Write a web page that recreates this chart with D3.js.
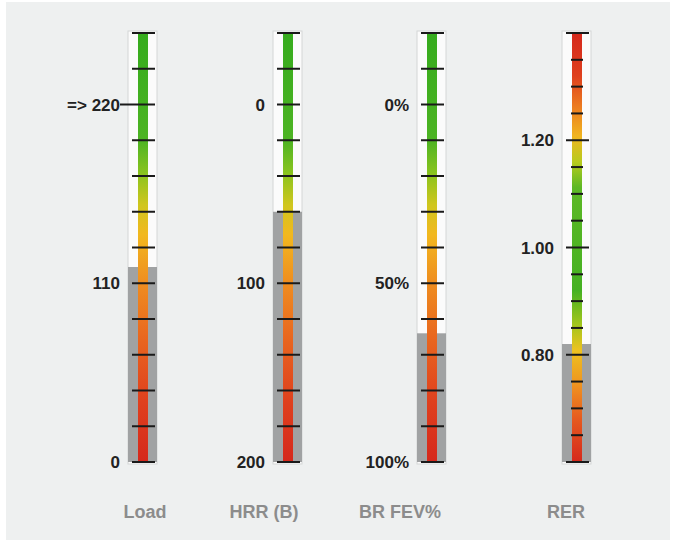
<!DOCTYPE html>
<html><head><meta charset="utf-8">
<script src="https://cdn.jsdelivr.net/npm/d3@7"></script>
<style>html,body{margin:0;padding:0;background:#fff;}svg{display:block;}</style>
</head><body>
<svg id="chart" width="676" height="542"></svg>
<script>
// ---- data ----
const gauges = ["Load", "HRR (B)", "BR FEV%", "RER"];
const values = [120, 60, 64, 0.82];
const domainTop = [264, -40, -20, 1.40];
const domainBottom = [0, 200, 100, 0.60];
const tickSteps = [22, 20, 10, 0.05];
const majorStep = [null, null, null, 0.2];
const labelValues = [[0, 110, 220], [0, 100, 200], [0, 50, 100], [0.8, 1.0, 1.2]];
const labelTexts = [["0", "110", "=> 220"], ["0", "100", "200"], ["0%", "50%", "100%"], ["0.80", "1.00", "1.20"]];
const markerValue = [220, null, null, null];
const colorSchemes = ["normal", "normal", "normal", "rer"];

// ---- layout ----
const centers = [143, 288, 432, 577];
const nameX = [145, 264, 400, 566];
const yTop = 33, yBottom = 462;

const svg = d3.select("#chart");
svg.append("rect").attr("x", 6).attr("y", 2).attr("width", 664).attr("height", 538).attr("fill", "#eef0f0");

const defs = svg.append("defs");
const normalStops = [[0, "#35ab1d"], [0.25, "#4db423"], [0.33, "#8cc41e"], [0.40, "#cfc61e"], [0.47, "#f2b81f"], [0.58, "#ef8e20"], [0.72, "#e8641f"], [0.86, "#df401e"], [1, "#d5281c"]];
const rerStops = [[0, "#d5281c"], [0.1, "#df401e"], [0.17, "#ec7a20"], [0.24, "#f0b420"], [0.3, "#b8cb1d"], [0.36, "#5db825"], [0.6, "#45b123"], [0.68, "#a3c61c"], [0.74, "#eec220"], [0.82, "#ef9320"], [0.9, "#e65a1f"], [1, "#d5281c"]];
const stopsFor = {normal: normalStops, rer: rerStops};
Object.entries(stopsFor).forEach(([k, stops]) => {
  const g = defs.append("linearGradient").attr("id", "grad-" + k).attr("x1", 0).attr("y1", 0).attr("x2", 0).attr("y2", 1);
  stops.forEach(s => g.append("stop").attr("offset", s[0]).attr("stop-color", s[1]));
});

gauges.forEach((name, i) => {
  const cx = centers[i];
  const y = d3.scaleLinear().domain([domainTop[i], domainBottom[i]]).range([yTop, yBottom]);
  const g = svg.append("g");
  // tube
  g.append("rect").attr("x", cx - 15).attr("y", yTop - 2).attr("width", 29).attr("height", yBottom - yTop + 4)
    .attr("fill", "#fbfbfb").attr("stroke", "#d4d6d6").attr("stroke-width", 1);
  // value fill (gray)
  g.append("rect").attr("x", cx - 15).attr("y", y(values[i])).attr("width", 29).attr("height", y(domainBottom[i]) - y(values[i]))
    .attr("fill", "#a0a2a3");
  // colour bar
  g.append("rect").attr("x", cx - 5).attr("y", yTop).attr("width", 10).attr("height", yBottom - yTop)
    .attr("fill", "url(#grad-" + colorSchemes[i] + ")");
  // ticks
  const lo = Math.min(domainTop[i], domainBottom[i]), hi = Math.max(domainTop[i], domainBottom[i]);
  const n = Math.round((hi - lo) / tickSteps[i]);
  const ticks = d3.range(n + 1).map(k => lo + k * tickSteps[i]);
  const isMinor = d => majorStep[i] && Math.abs(Math.round(d / majorStep[i]) * majorStep[i] - d) > 1e-6;
  g.selectAll("line.tick").data(ticks).enter().append("line")
    .attr("x1", d => {
      if (markerValue[i] !== null && Math.abs(d - markerValue[i]) < 1e-6) return cx - 23;
      return isMinor(d) ? cx - 6 : cx - 11;
    })
    .attr("x2", d => isMinor(d) ? cx + 6 : cx + 12)
    .attr("y1", d => y(d)).attr("y2", d => y(d))
    .attr("stroke", "#1a1a1a").attr("stroke-width", 2);
  // tick labels
  g.selectAll("text.lab").data(labelValues[i]).enter().append("text")
    .attr("x", cx - 23).attr("y", d => y(d) + 6)
    .attr("text-anchor", "end")
    .attr("font-family", "Liberation Sans, Arial, sans-serif").attr("font-weight", "bold").attr("font-size", 17)
    .attr("fill", "#222")
    .text((d, k) => labelTexts[i][k]);
  // gauge name
  svg.append("text").attr("x", nameX[i]).attr("y", 518).attr("text-anchor", "middle")
    .attr("font-family", "Liberation Sans, Arial, sans-serif").attr("font-weight", "bold").attr("font-size", 18)
    .attr("fill", "#8c8c8c").text(name);
});
</script>
</body></html>
